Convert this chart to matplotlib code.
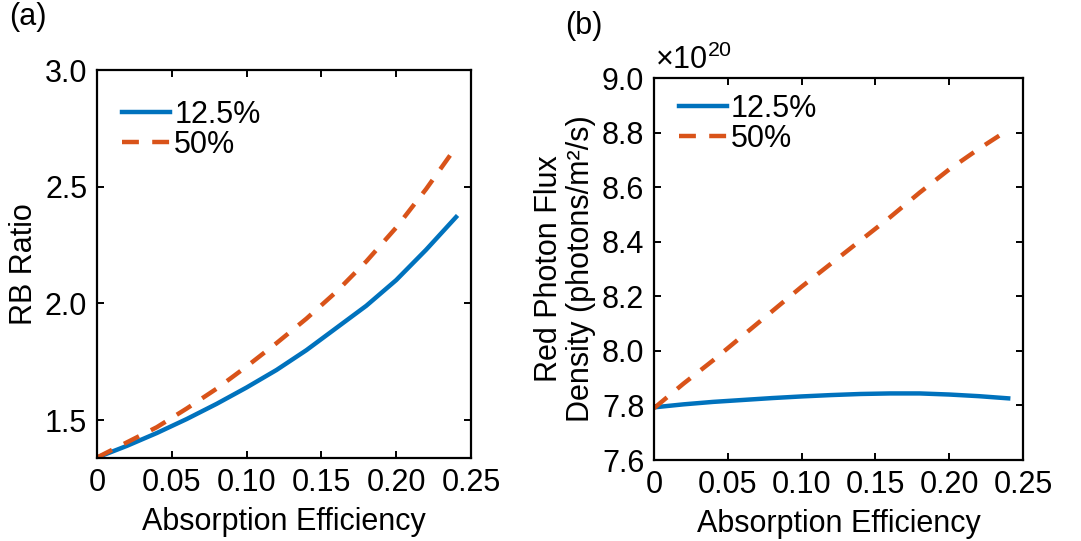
import matplotlib
matplotlib.use("Agg")
import matplotlib.pyplot as plt
from matplotlib.ticker import FixedLocator, FixedFormatter

plt.rcParams['font.family'] = ['Liberation Sans', 'DejaVu Sans']
plt.rcParams['mathtext.fontset'] = 'custom'
plt.rcParams['mathtext.rm'] = 'Liberation Sans'

# ---- data ----
absorption = [0.0, 0.02, 0.04, 0.06, 0.08, 0.10, 0.12, 0.14, 0.16, 0.18, 0.20, 0.22, 0.24]
rb_125 = [1.34, 1.39, 1.445, 1.505, 1.57, 1.64, 1.715, 1.80, 1.895, 1.99, 2.10, 2.23, 2.37]
rb_50 = [1.34, 1.405, 1.47, 1.55, 1.635, 1.73, 1.83, 1.935, 2.05, 2.18, 2.325, 2.49, 2.67]
flux_125 = [7.793, 7.804, 7.813, 7.820, 7.827, 7.833, 7.838, 7.842, 7.844, 7.844, 7.840, 7.834, 7.826]
flux_50 = [7.79, 7.88, 7.965, 8.055, 8.145, 8.235, 8.32, 8.405, 8.49, 8.58, 8.665, 8.74, 8.81]
series_labels = ['12.5%', '50%']
xticks = [0, 0.05, 0.10, 0.15, 0.20, 0.25]
xticklabels = ['0', '0.05', '0.10', '0.15', '0.20', '0.25']
rb_ticks = [1.5, 2.0, 2.5, 3.0]
rb_ticklabels = ['1.5', '2.0', '2.5', '3.0']
flux_ticks = [7.6, 7.8, 8.0, 8.2, 8.4, 8.6, 8.8, 9.0]
flux_ticklabels = ['7.6', '7.8', '8.0', '8.2', '8.4', '8.6', '8.8', '9.0']

blue = '#0072BD'
orange = '#D95319'
FS = 22

fig = plt.figure(figsize=(10.81, 5.41), dpi=100)
ax1 = fig.add_axes([0.0897, 0.1534, 0.3460, 0.7172])
ax2 = fig.add_axes([0.6050, 0.1497, 0.3413, 0.7061])

def style(ax):
    for s in ax.spines.values():
        s.set_linewidth(1.6)
    ax.tick_params(direction='in', length=5, width=1.4, top=True, right=True,
                   labelsize=FS, pad=7)
    ax.xaxis.set_major_locator(FixedLocator(xticks))
    ax.xaxis.set_major_formatter(FixedFormatter(xticklabels))
    ax.set_xlim(0, 0.25)
    ax.set_xlabel('Absorption Efficiency', fontsize=FS, labelpad=7)

lw = 3.2
dash = (0, (3.8, 3.0))

ax1.plot(absorption, rb_125, color=blue, lw=lw, label=series_labels[0])
ax1.plot(absorption, rb_50, color=orange, lw=lw, linestyle=dash, label=series_labels[1])
style(ax1)
ax1.set_ylim(1.338, 3.0)
ax1.yaxis.set_major_locator(FixedLocator(rb_ticks))
ax1.yaxis.set_major_formatter(FixedFormatter(rb_ticklabels))
ax1.set_ylabel('RB Ratio', fontsize=FS, labelpad=4)

ax2.plot(absorption, flux_125, color=blue, lw=lw, label=series_labels[0])
ax2.plot(absorption, flux_50, color=orange, lw=lw, linestyle=dash, label=series_labels[1])
style(ax2)
ax2.set_ylim(7.6, 9.0)
ax2.yaxis.set_major_locator(FixedLocator(flux_ticks))
ax2.yaxis.set_major_formatter(FixedFormatter(flux_ticklabels))
ax2.set_ylabel('Red Photon Flux\nDensity (photons/m²/s)', fontsize=FS, labelpad=4,
               linespacing=1.1)

ax1.legend(loc='upper left', frameon=False, fontsize=FS, handlelength=1.55,
           handletextpad=0.15, labelspacing=0.0, borderaxespad=0.0,
           bbox_to_anchor=(0.035, 0.955))
ax2.legend(loc='upper left', frameon=False, fontsize=FS, handlelength=1.55,
           handletextpad=0.15, labelspacing=0.0, borderaxespad=0.0,
           bbox_to_anchor=(0.035, 0.99))

fig.text(0.606, 0.86, r'$\times\mathregular{10^{20}}$', fontsize=FS, ha='left', va='bottom')
fig.text(0.008, 0.94, '(a)', fontsize=FS, ha='left', va='bottom')
fig.text(0.523, 0.925, '(b)', fontsize=FS, ha='left', va='bottom')

fig.savefig('out.png', dpi=100)
